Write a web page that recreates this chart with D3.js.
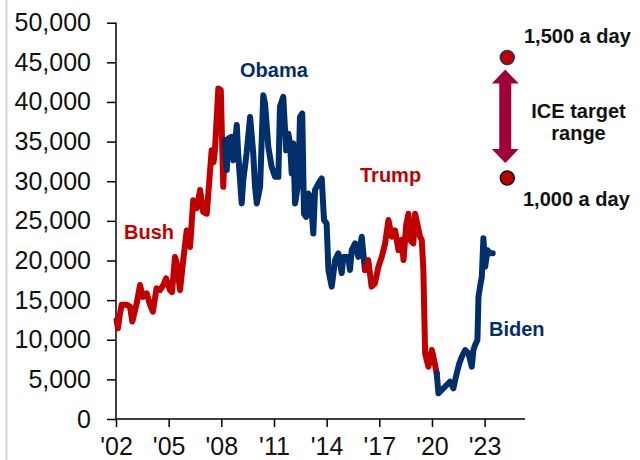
<html><head>
<meta charset="utf-8">
<script src="https://cdnjs.cloudflare.com/ajax/libs/d3/7.8.5/d3.min.js"></script>
<style>
  body { margin: 0; background: #fff; }
  svg text { font-family: "Liberation Sans", Arial, sans-serif; }
  .tick-label { font-size: 25px; fill: #111; }
  .pres { font-size: 20px; font-weight: bold; }
  .note { font-size: 20px; font-weight: bold; fill: #111; }
</style>
</head>
<body>
<script>
// monthly-ish readings: [year, detained]
var bush = [
  [2002.03, 12500], [2002.11, 11450], [2002.20, 12900], [2002.32, 14400], [2002.62, 14400],
  [2002.80, 14150], [2002.93, 12300], [2003.18, 14600], [2003.37, 16900], [2003.52, 15400],
  [2003.75, 15850], [2003.91, 14600], [2004.10, 13530], [2004.31, 16480], [2004.50, 16250],
  [2004.70, 16900], [2004.85, 17750], [2004.98, 16900], [2005.08, 16250], [2005.19, 16000],
  [2005.36, 20450], [2005.46, 19650], [2005.65, 16250], [2005.83, 20050], [2006.03, 23800],
  [2006.22, 21700], [2006.40, 27600], [2006.60, 26600], [2006.79, 28900], [2006.97, 26100],
  [2007.17, 25900], [2007.45, 33900], [2007.56, 32400], [2007.64, 34000], [2007.83, 41700],
  [2007.97, 41500], [2008.11, 29300], [2008.21, 35200]
];
var obama = [
  [2008.21, 35200], [2008.31, 31400], [2008.40, 35400], [2008.59, 35600], [2008.68, 32650],
  [2008.88, 37100], [2008.96, 33500], [2009.16, 27200], [2009.25, 30100], [2009.44, 33550],
  [2009.64, 38100], [2009.82, 33500], [2009.92, 29300], [2010.02, 27200], [2010.21, 29300],
  [2010.39, 40850], [2010.49, 39800], [2010.68, 34300], [2010.87, 31800], [2011.06, 30550],
  [2011.25, 30550], [2011.34, 39400], [2011.53, 40650], [2011.69, 33900], [2011.82, 36000],
  [2011.91, 34800], [2012.01, 31000], [2012.10, 34750], [2012.20, 27200], [2012.39, 29700],
  [2012.48, 38100], [2012.61, 38550], [2012.71, 25900], [2012.83, 25500], [2012.96, 28450],
  [2013.09, 28000], [2013.24, 23400], [2013.34, 28900], [2013.53, 29700], [2013.72, 30350],
  [2013.85, 25100], [2014.00, 24650], [2014.10, 18800], [2014.29, 16700], [2014.48, 20050],
  [2014.67, 20900], [2014.86, 18400], [2014.95, 20450], [2015.23, 20450], [2015.33, 18800],
  [2015.43, 21300], [2015.62, 22150], [2015.80, 20450], [2016.00, 23000], [2016.18, 18800]
];
var trump = [
  [2016.18, 18800], [2016.37, 20050], [2016.56, 16700], [2016.75, 17100], [2016.95, 19200],
  [2017.14, 20450], [2017.33, 22150], [2017.52, 25100], [2017.71, 23000], [2017.90, 23800],
  [2018.09, 21300], [2018.28, 22600], [2018.38, 20050], [2018.53, 24450], [2018.66, 25900],
  [2018.75, 22600], [2018.94, 22150], [2019.04, 25900], [2019.18, 24450], [2019.32, 23000],
  [2019.42, 22600], [2019.51, 18800], [2019.61, 8280], [2019.70, 7440], [2019.80, 6600],
  [2019.99, 8700], [2020.08, 7850], [2020.18, 6800], [2020.27, 5760]
];
var biden = [
  [2020.27, 5760], [2020.37, 3240], [2020.56, 3660], [2020.84, 4290], [2021.03, 4700],
  [2021.22, 3870], [2021.41, 5760], [2021.56, 7020], [2021.70, 7850], [2021.89, 8700],
  [2022.08, 8280], [2022.27, 6600], [2022.36, 8700], [2022.46, 9330], [2022.59, 9960],
  [2022.65, 15400], [2022.74, 16700], [2022.84, 17950], [2022.93, 22800], [2023.03, 19200],
  [2023.16, 21300], [2023.31, 20900], [2023.46, 20900]
];
// ICE target range, monthly equivalent of 1,500 and 1,000 a day
var targetYear = 2024.29;
var targetValues = [45600, 30400];

var yTicks = [0, 5000, 10000, 15000, 20000, 25000, 30000, 35000, 40000, 45000, 50000];
var xTicks = [2002, 2005, 2008, 2011, 2014, 2017, 2020, 2023];

var RED = "#c00000", BLUE = "#002f6c";

var svg = d3.select("body").append("svg")
    .attr("width", 640).attr("height", 460);

// faint frame line on the left edge of the original
svg.append("line")
    .attr("x1", 6.5).attr("x2", 6.5).attr("y1", 0).attr("y2", 460)
    .attr("stroke", "#d9d9d9").attr("stroke-width", 2);

var x = d3.scaleLinear().domain([2002, 2025.3]).range([116, 525]);
var y = d3.scaleLinear().domain([0, 50000]).range([419, 22.7]);

var yAxis = d3.axisLeft(y).tickValues(yTicks).tickSize(9).tickPadding(16)
    .tickFormat(d3.format(","));
var gy = svg.append("g").attr("transform", "translate(116,0)").call(yAxis);
var xAxis = d3.axisBottom(x).tickValues(xTicks).tickSize(8).tickPadding(10)
    .tickFormat(function(d) { return "'" + String(d).slice(2); });
var gx = svg.append("g").attr("transform", "translate(0,419)").call(xAxis);

[gx, gy].forEach(function(g) {
  g.select(".domain").attr("stroke", "#000").attr("stroke-width", 1.5);
  g.selectAll(".tick line").attr("stroke", "#000").attr("stroke-width", 1.5);
  g.selectAll(".tick text").attr("class", "tick-label").attr("font-size", null)
    .attr("font-family", null);
});
gx.select(".domain").attr("d", "M116,0H525");
gy.select(".domain").attr("d", "M0,22.7V419");

var line = d3.line().x(function(d) { return x(d[0]); }).y(function(d) { return y(d[1]); });

[[bush, RED], [obama, BLUE], [trump, RED], [biden, BLUE]].forEach(function(s) {
  svg.append("path")
      .attr("d", line(s[0]))
      .attr("fill", "none")
      .attr("stroke", s[1])
      .attr("stroke-width", 6)
      .attr("stroke-linejoin", "round")
      .attr("stroke-linecap", "round");
});

svg.append("text").attr("class", "pres").attr("x", 124).attr("y", 239).attr("fill", RED).text("Bush");
svg.append("text").attr("class", "pres").attr("x", 240).attr("y", 77).attr("fill", BLUE).text("Obama");
svg.append("text").attr("class", "pres").attr("x", 360).attr("y", 182).attr("fill", RED).text("Trump");
svg.append("text").attr("class", "pres").attr("x", 489).attr("y", 336).attr("fill", BLUE).text("Biden");

// target range arrow between the two dots
var ax = x(targetYear) - 2, arrTop = y(targetValues[0]) + 12, arrBot = y(targetValues[1]) - 15;
var hw = 13.5, hh = 14, sw = 6;
svg.append("path")
    .attr("d", "M" + ax + "," + arrTop +
      "L" + (ax + hw) + "," + (arrTop + hh) + "L" + (ax + sw) + "," + (arrTop + hh) +
      "L" + (ax + sw) + "," + (arrBot - hh) + "L" + (ax + hw) + "," + (arrBot - hh) +
      "L" + ax + "," + arrBot +
      "L" + (ax - hw) + "," + (arrBot - hh) + "L" + (ax - sw) + "," + (arrBot - hh) +
      "L" + (ax - sw) + "," + (arrTop + hh) + "L" + (ax - hw) + "," + (arrTop + hh) + "Z")
    .attr("fill", "#a0003a");

svg.selectAll("circle.target").data(targetValues).enter().append("circle")
    .attr("class", "target")
    .attr("cx", x(targetYear)).attr("cy", function(d) { return y(d); })
    .attr("r", 7)
    .attr("fill", RED)
    .attr("stroke", function(d, i) { return i === 0 ? "#1f3864" : "#111"; })
    .attr("stroke-width", 1.5);

svg.append("text").attr("class", "note").attr("x", 524).attr("y", 43).text("1,500 a day");
svg.append("text").attr("class", "note").attr("x", 523).attr("y", 206).text("1,000 a day");
svg.append("text").attr("class", "note").attr("x", 578.5).attr("y", 118)
    .attr("text-anchor", "middle").text("ICE target");
svg.append("text").attr("class", "note").attr("x", 578.5).attr("y", 139.5)
    .attr("text-anchor", "middle").text("range");
</script>
</body></html>
